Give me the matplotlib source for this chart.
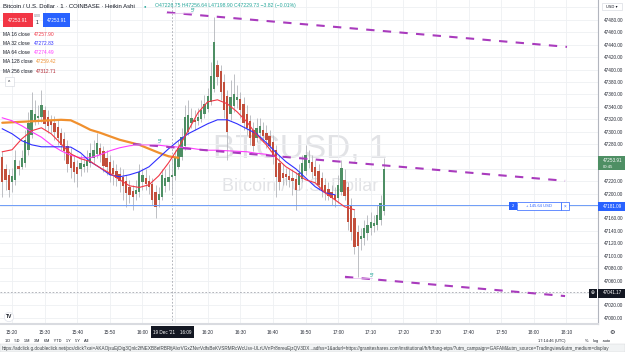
import matplotlib.pyplot as plt
import matplotlib.patches as mpatches
import numpy as np

# 1-minute Heikin Ashi bars (minutes after 15:00)
bar_minutes = np.arange(17, 135)
opens = [47259, 47239, 47230, 47218, 47222, 47245, 47243, 47250, 47271, 47295,
         47316, 47322, 47324, 47334, 47324, 47317, 47314, 47308, 47298, 47288,
         47277, 47263, 47251, 47243, 47239, 47243, 47245, 47250, 47258, 47264,
         47274, 47269, 47258, 47251, 47242, 47237, 47232, 47227, 47221, 47211,
         47205, 47200, 47203, 47219, 47226, 47221, 47216, 47203, 47190, 47195,
         47213, 47219, 47226.75, 47229, 47243, 47259, 47276, 47300, 47314, 47319,
         47317, 47321, 47329, 47337, 47348, 47369, 47408, 47398, 47380, 47358,
         47329, 47342, 47351, 47353, 47345, 47329, 47317, 47303, 47290, 47298,
         47303, 47298, 47293, 47284, 47271, 47250, 47234, 47232, 47229, 47226,
         47224, 47214, 47224, 47237, 47250, 47251, 47243, 47237, 47226, 47214,
         47208, 47203, 47198, 47193, 47203, 47222, 47210, 47182, 47161, 47139,
         47127, 47129, 47137, 47144, 47148, 47150, 47158, 47172]
closes = [47218, 47222, 47206, 47229, 47255, 47240, 47258, 47287, 47314, 47335,
          47329, 47325, 47343, 47313, 47309, 47311, 47300, 47290, 47279, 47268,
          47247, 47242, 47235, 47232, 47250, 47247, 47255, 47266, 47271, 47282,
          47263, 47245, 47243, 47230, 47232, 47226, 47221, 47213, 47201, 47198,
          47195, 47206, 47235, 47230, 47216, 47211, 47190, 47179, 47200, 47230,
          47226, 47227, 47229.73, 47258, 47274, 47292, 47324, 47327, 47322, 47316,
          47324, 47335, 47345, 47358, 47390, 47445, 47388, 47363, 47335, 47300,
          47355, 47361, 47355, 47335, 47314, 47306, 47290, 47277, 47306, 47309,
          47293, 47287, 47276, 47259, 47227, 47218, 47226, 47227, 47222, 47221,
          47206, 47234, 47250, 47263, 47255, 47235, 47229, 47214, 47205, 47201,
          47197, 47193, 47189, 47214, 47242, 47197, 47155, 47139, 47114, 47116,
          47132, 47145, 47150, 47155, 47153, 47166, 47185, 47239]
highs = [47268, 47247, 47239, 47242, 47271, 47255, 47271, 47303, 47332, 47364,
         47351, 47343, 47367, 47342, 47335, 47327, 47325, 47319, 47306, 47300,
         47287, 47274, 47263, 47255, 47263, 47258, 47271, 47282, 47287, 47298,
         47282, 47277, 47271, 47263, 47255, 47248, 47243, 47239, 47230, 47222,
         47214, 47222, 47247, 47242, 47239, 47230, 47226, 47214, 47210, 47239,
         47239, 47247, 47256.64, 47271, 47287, 47306, 47343, 47351, 47338, 47335,
         47338, 47351, 47359, 47371, 47412, 47485, 47416, 47408, 47392, 47367,
         47383, 47392, 47375, 47364, 47355, 47343, 47327, 47316, 47322, 47322,
         47316, 47311, 47303, 47295, 47279, 47263, 47247, 47242, 47239, 47239,
         47235, 47247, 47263, 47279, 47271, 47263, 47255, 47247, 47235, 47226,
         47218, 47214, 47210, 47230, 47255, 47239, 47219, 47193, 47174, 47150,
         47145, 47158, 47166, 47171, 47166, 47182, 47198, 47258]
lows = [47195, 47206, 47195, 47203, 47214, 47230, 47239, 47243, 47263, 47290,
        47311, 47313, 47316, 47303, 47298, 47298, 47287, 47279, 47271, 47255,
        47235, 47226, 47219, 47211, 47229, 47235, 47235, 47243, 47250, 47258,
        47251, 47235, 47230, 47219, 47214, 47213, 47203, 47190, 47179, 47185,
        47174, 47190, 47195, 47206, 47206, 47200, 47182, 47161, 47179, 47190,
        47203, 47206, 47198.90, 47222, 47239, 47255, 47271, 47295, 47306, 47303,
        47311, 47316, 47322, 47332, 47343, 47364, 47375, 47351, 47322, 47255,
        47319, 47332, 47338, 47322, 47303, 47295, 47279, 47268, 47284, 47287,
        47284, 47274, 47268, 47247, 47195, 47206, 47214, 47214, 47210, 47198,
        47174, 47206, 47218, 47230, 47242, 47226, 47219, 47206, 47195, 47190,
        47190, 47182, 47179, 47185, 47198, 47190, 47142, 47126, 47102, 47066,
        47110, 47118, 47126, 47134, 47139, 47142, 47150, 47166]

# moving averages, read every 3 minutes
ma16_t = list(range(17, 126, 3))
ma16 = [47267.5, 47270.7, 47288.4, 47301.3, 47306.1, 47296.5, 47280.4, 47264.2, 47256.2, 47252.0,
        47241.7, 47233.0, 47222.4, 47212.7, 47210.0, 47214.3, 47228.8, 47249.7, 47273.9, 47301.3,
        47330.3, 47348.0, 47351.2, 47344.8, 47331.9, 47315.8, 47294.8, 47278.7, 47257.8, 47243.3,
        47233.6, 47222.4, 47217.5, 47201.4, 47190.1, 47178.9, 47174.0]
ma32_t = list(range(17, 120, 3))
ma32 = [47304.5, 47296.5, 47285.2, 47278.7, 47275.5, 47275.5, 47275.5, 47275.0, 47265.9, 47251.4,
        47241.7, 47230.4, 47227.2, 47230.4, 47235.2, 47243.3, 47257.8, 47272.3, 47285.2, 47296.5,
        47304.5, 47312.6, 47319.0, 47319.0, 47312.6, 47304.5, 47296.5, 47282.0, 47265.9, 47251.4,
        47240.1, 47225.6, 47211.1, 47201.4, 47198.2]
ma64_t = list(range(17, 102, 3))
ma64 = [47322.2, 47317.4, 47309.3, 47299.7, 47291.0, 47278.7, 47269.1, 47262.0, 47257.8, 47257.8,
        47262.6, 47269.1, 47273.9, 47277.1, 47278.7, 47278.7, 47278.0, 47276.3, 47275.0, 47273.9,
        47271.5, 47270.0, 47270.0, 47269.1, 47268.3, 47267.5, 47265.0, 47263.4, 47259.4]
ma128_t = list(range(17, 72, 3))
ma128 = [47314.2, 47315.0, 47315.8, 47316.6, 47317.4, 47318.2, 47319.0, 47318.2, 47310.9, 47302.9,
         47298.1, 47292.4, 47286.8, 47282.8, 47278.7, 47272.3, 47265.9, 47260.2, 47257.8]

# drawn trend lines (start/end minute, start/end price)
trend_t = [[67.5, 190.2], [57.1, 189.6], [122.1, 189.6]]
trend_p = [[47492, 47436.5], [47280, 47220.7], [47066, 47035]]
trend_label = [(75.5, 47493), (65.4, 47282), (130.4, 47066)]

hline_price = 47181.09
cross_t, cross_p = 69, 47041.17
last_price = 47253.91

time_ticks = list(range(20, 191, 10))
time_labels = ['15:20', '15:30', '15:40', '15:50', '16:00', '', '16:20', '16:30', '16:40',
               '16:50', '17:00', '17:10', '17:20', '17:30', '17:40', '17:50', '18:00', '18:10']
price_ticks = list(range(47000, 47501, 20))
hidden_prices = [47500, 47260, 47240, 47180, 47040]   # covered by scale labels

ma_names = ['MA 16 close', 'MA 32 close', 'MA 64 close', 'MA 128 close', 'MA 256 close']
ma_values = ['47257.90', '47272.83', '47274.49', '47259.42', '47312.71']
ma_colors = ['#f23645', '#3030ff', '#ff3bff', '#f0902e', '#b22833']

W, H = 625, 352
plt.rcParams['font.family'] = ['Liberation Sans', 'DejaVu Sans']


def fx(x):
    return x / W


def fy(y):
    return 1 - y / H


def box(x0, y0, x1, y1, fc, ec='none', lw=0.6):
    fig.add_artist(mpatches.Rectangle((fx(x0), fy(y1)), (x1 - x0) / W, (y1 - y0) / H,
                                      transform=fig.transFigure, fc=fc, ec=ec, lw=lw, zorder=5))


fig = plt.figure(figsize=(6.25, 3.52), dpi=100)
ax = fig.add_axes([0, fy(324), fx(598), 324 / H])
ax.set_xlim(16.3, 199.7)
ax.set_ylim(46990, 47512)

ax.set_xticks(time_ticks)
ax.set_xticklabels(time_labels)
ax.set_yticks(price_ticks)
ax.set_yticklabels(['' if p in hidden_prices else '%.2f' % p for p in price_ticks])
ax.yaxis.tick_right()
ax.tick_params(length=0, labelsize=3.4, colors='#2a2e39')
ax.tick_params(axis='y', pad=4)
ax.tick_params(axis='x', pad=4)
ax.grid(color='#eef0f3', lw=0.6)
ax.set_axisbelow(True)
for s in ['top', 'left']:
    ax.spines[s].set_visible(False)
ax.spines['right'].set_color('#b2b5be')
ax.spines['right'].set_linewidth(0.8)
ax.spines['bottom'].set_color('#d9dbe0')
ax.spines['bottom'].set_linewidth(1.5)

# watermark
ax.text(108.3, 47258, 'BTCUSD, 1', fontsize=24, color='#e2e3e6', ha='center', va='baseline', zorder=0)
ax.text(108.3, 47205, 'Bitcoin / U.S. Dollar', fontsize=13, color='#e2e3e6', ha='center', va='baseline', zorder=0)

# candles
up = np.array(closes) >= np.array(opens)
colors = np.where(up, '#4e8f64', '#c24f3c')
ax.vlines(bar_minutes, lows, highs, color='#b3b5ba', lw=0.6, zorder=2)
ax.bar(bar_minutes, np.array(closes) - np.array(opens), bottom=opens, width=0.72,
       color=colors, zorder=3)

# moving averages
ax.plot(ma128_t, ma128, color=ma_colors[3], lw=1.6, zorder=4, solid_capstyle='round')
ax.plot(ma64_t, ma64, color=ma_colors[2], lw=0.8, zorder=4)
ax.plot(ma32_t, ma32, color=ma_colors[1], lw=0.8, zorder=4)
ax.plot(ma16_t, ma16, color=ma_colors[0], lw=0.8, zorder=4)

# trend lines
for t, p, (lt, lp) in zip(trend_t, trend_p, trend_label):
    ax.plot(t, p, color='#a93bbd', lw=1.5, ls=(0, (4, 4)), zorder=4)
    ax.plot([t[0], lt], [p[0] - 2, lp - 2], color='#e3b6ec', lw=0.5, zorder=4)
    ax.text(lt, lp + 2, '5*', fontsize=3.4, color='#26a69a', ha='center', va='center', zorder=5)

ax.axhline(hline_price, color='#6e9cf7', lw=0.7, zorder=3)
ax.axvline(cross_t, color='#9598a1', lw=0.5, ls=(0, (2.5, 2.5)), zorder=1)
ax.axhline(cross_p, color='#9598a1', lw=0.5, ls=(0, (2.5, 2.5)), zorder=1)

# header
fig.text(fx(3), fy(6), 'Bitcoin / U.S. Dollar · 1 · COINBASE · Heikin Ashi', fontsize=4.3,
         color='#131722', va='center')
fig.text(fx(145), fy(6), '●', fontsize=3, color='#26a69a', va='center', ha='center')
fig.text(fx(155), fy(6), 'O47226.75 H47256.64 L47198.90 C47229.73 −3.82 (−0.01%)', fontsize=3.7,
         color='#26a69a', va='center')
box(3, 13, 33, 27, '#f23645')
fig.text(fx(18), fy(20), '47253.91', fontsize=3.4, color='white', ha='center', va='center', zorder=6)
fig.text(fx(37), fy(16), '0.00', fontsize=2.6, color='#787b86', ha='center', va='center')
fig.text(fx(37), fy(23), '1', fontsize=3.6, color='#131722', ha='center', va='center')
box(43, 13, 70, 27, '#2962ff')
fig.text(fx(56.5), fy(20), '47253.91', fontsize=3.4, color='white', ha='center', va='center', zorder=6)
for i, (n, v, c) in enumerate(zip(ma_names, ma_values, ma_colors)):
    yy = 34 + i * 9.3
    fig.text(fx(3), fy(yy), n, fontsize=3.5, color='#131722', va='center')
    fig.text(fx(34 if i < 3 else 36), fy(yy), v, fontsize=3.5, color=c, va='center')
box(5, 77, 14, 86, 'white', '#d1d4dc', 0.4)
fig.text(fx(9.5), fy(82), '^', fontsize=3.5, color='#131722', ha='center', va='center', zorder=6)

# line label on the blue horizontal
box(509, 202, 517, 210, '#2962ff')
fig.text(fx(513), fy(206), '2', fontsize=3, color='white', ha='center', va='center', zorder=6)
box(517, 202, 561, 210, 'white', '#2962ff', 0.5)
fig.text(fx(539), fy(206), '+ 145.64 USD', fontsize=3, color='#2962ff', ha='center', va='center', zorder=6)
box(561, 202, 569, 210, 'white', '#2962ff', 0.5)
fig.text(fx(565), fy(206), '×', fontsize=3.4, color='#2962ff', ha='center', va='center', zorder=6)

# price scale labels
box(602, 3, 622, 10, 'white', '#d1d4dc', 0.4)
fig.text(fx(612), fy(6.5), 'USD ▾', fontsize=2.8, color='#131722', ha='center', va='center', zorder=6,
         family=['DejaVu Sans'])
box(598, 156, 625, 170, '#4e8f64')
fig.text(fx(603), fy(160), '%.2f' % last_price, fontsize=3.3, color='white', va='center', zorder=6)
fig.text(fx(603), fy(166.5), '00:45', fontsize=3.1, color='white', va='center', zorder=6)
box(598, 201.5, 625, 210.5, '#2962ff')
fig.text(fx(603), fy(206), '%.2f' % hline_price, fontsize=3.3, color='white', va='center', zorder=6)
box(598, 288.5, 625, 297.5, '#131722')
fig.text(fx(603), fy(293), '%.2f' % cross_p, fontsize=3.3, color='white', va='center', zorder=6)
box(589, 288.5, 597, 297.5, '#131722')
fig.text(fx(593), fy(293), '⊕', fontsize=3.4, color='white', ha='center', va='center', zorder=6,
         family=['DejaVu Sans'])

# time scale crosshair label
box(151, 326, 194, 338, '#131722')
fig.text(fx(172.5), fy(332), "19 Dec '21    16:09", fontsize=3.3, color='white', ha='center', va='center', zorder=6)
fig.text(fx(612), fy(332), '⚙', fontsize=4.5, color='#131722', ha='center', va='center',
         family=['DejaVu Sans'])

# TradingView logo
fig.text(fx(9), fy(317), 'TV', fontsize=3.6, fontweight='bold', color='#131722', ha='center', va='center',
         bbox=dict(boxstyle='circle,pad=0.3', fc='white', ec='#e0e3eb', lw=0.5))

# bottom toolbar (mostly hidden) and status url
fig.text(fx(5), fy(341.2), '1D    5D    1M    3M    6M    YTD    1Y    5Y    All', fontsize=2.8,
         color='#131722', va='center')
fig.text(fx(538), fy(341.2), '17:14:46 (UTC)', fontsize=2.8, color='#131722', va='center')
fig.text(fx(585), fy(341.2), '%    log    auto', fontsize=2.8, color='#131722', va='center')
box(0, 344, 625, 352, '#f1f3f4', '#d0d3d7', 0.3)
fig.text(fx(2), fy(348.2), 'https://adclick.g.doubleclick.net/pcs/click?xai=AKAOjsuEjDig3Qnlc2fNEXB8efRBRfjAlxrVGxZNvrVdfsBeKVSRMRcWcUsv-ULrUVnPr8nreuEjzQV3DX...adfss=1&adurl=https://graniteshares.com/institutional/fr/fr/fang-etps/?utm_campaign=GAFAM&utm_source=Tradingview&utm_medium=display',
         fontsize=3.3, color='#3c4043', va='center', zorder=6)

fig.savefig('out.png', dpi=100)
